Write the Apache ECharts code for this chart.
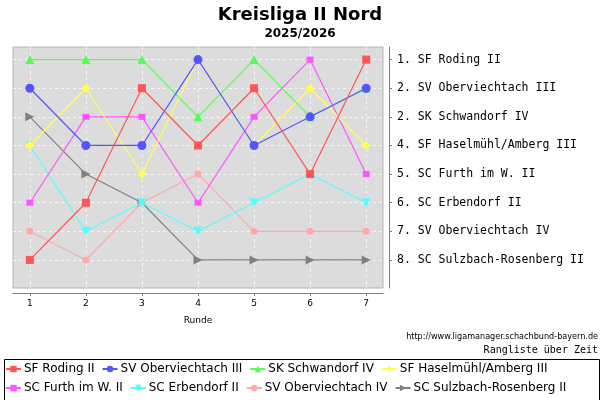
<!DOCTYPE html>
<html>
<head>
<meta charset="utf-8">
<script src="https://cdn.jsdelivr.net/npm/echarts@6/dist/echarts.min.js"></script>
<style>
html,body{margin:0;padding:0;background:#fff;}
#chart{width:600px;height:400px;}
</style>
</head>
<body>
<div id="chart"></div>
<script>
var rounds = [1, 2, 3, 4, 5, 6, 7];
var teams = ['SF Roding II', 'SV Oberviechtach III', 'SK Schwandorf IV', 'SF Haselmühl/Amberg III',
	'SC Furth im W. II', 'SC Erbendorf II', 'SV Oberviechtach IV', 'SC Sulzbach-Rosenberg II'];
var ranks = [
	[8, 6, 2, 4, 2, 5, 1],
	[2, 4, 4, 1, 4, 3, 2],
	[1, 1, 1, 3, 1, 3, 2],
	[4, 2, 5, 1, 4, 2, 4],
	[6, 3, 3, 6, 3, 1, 5],
	[4, 7, 6, 7, 6, 5, 6],
	[7, 8, 6, 5, 7, 7, 7],
	[3, 5, 6, 8, 8, 8, 8]
];
// final table on the right
var tableLabels = ['1. SF Roding II', '2. SV Oberviechtach III', '2. SK Schwandorf IV', '4. SF Haselmühl/Amberg III',
	'5. SC Furth im W. II', '6. SC Erbendorf II', '7. SV Oberviechtach IV', '8. SC Sulzbach-Rosenberg II'];
var rankTicks = [1, 2, 3, 4, 5, 6, 7, 8];

var colors = ['#ff5555', '#5555ff', '#55ff55', '#ffff55', '#ff55ff', '#55ffff', '#ffaaaa', '#808080'];
var symbols = ['rect', 'circle', 'triangle', 'diamond', 'rect', 'triangle', 'circle', 'triangle'];
var symRot = [0, 0, 0, 0, 0, 180, 0, -90];
var symSize = [8, 9, 9, 9, [7, 6], 9, 7, 9];

var series = [];
for (var i = 0; i < teams.length; i++) {
	var d = [];
	for (var j = 0; j < rounds.length; j++) {
		d.push([rounds[j], ranks[i][j]]);
	}
	series.push({
		name: teams[i],
		type: 'line',
		data: d,
		z: 20 - i,
		symbol: symbols[i],
		symbolRotate: symRot[i],
		symbolSize: symSize[i],
		showAllSymbol: true,
		color: colors[i],
		lineStyle: {width: 1.2, color: colors[i]},
		itemStyle: {color: colors[i]},
		emphasis: {disabled: true},
		animation: false
	});
}

var chart = echarts.init(document.getElementById('chart'));
var option = {
	animation: false,
	title: [{
		text: 'Kreisliga II Nord',
		left: 'center', top: 1,
		textStyle: {fontFamily: 'DejaVu Sans', fontSize: 18, fontWeight: 'bold', color: '#000'}
	}, {
		text: '2025/2026',
		left: 'center', top: 23,
		textStyle: {fontFamily: 'DejaVu Sans', fontSize: 12, fontWeight: 'bold', color: '#000'}
	}],
	grid: {
		left: 13, right: 217, top: 47, bottom: 112,
		show: true,
		backgroundColor: '#dcdcdc',
		borderColor: '#b4b4b4',
		borderWidth: 1
	},
	legend: {
		left: 0, top: 358, width: 590,
		itemGap: 7, itemWidth: 15, itemHeight: 8,
		textStyle: {fontFamily: 'DejaVu Sans', fontSize: 12, color: '#000', padding: [0, 0, 0, -2]},
		data: teams
	},
	xAxis: {
		type: 'value', min: 0.7, max: 7.3,
		offset: 5,
		name: 'Runde', nameLocation: 'middle', nameGap: 23,
		nameTextStyle: {fontFamily: 'DejaVu Sans', fontSize: 9, color: '#000'},
		axisLine: {show: true, onZero: false, lineStyle: {color: '#808080', width: 1}},
		axisTick: {show: true, length: 3, lineStyle: {color: '#808080'}, customValues: rounds},
		axisLabel: {fontFamily: 'DejaVu Sans', fontSize: 9, color: '#000', margin: 6, customValues: rounds},
		splitLine: {show: true, lineStyle: {color: '#f4f4f4', type: [3, 3], width: 1}}
	},
	yAxis: [{
		type: 'value', inverse: true, min: 0.56, max: 8.98,
		position: 'left',
		axisLine: {show: false},
		axisTick: {show: false, customValues: rankTicks},
		axisLabel: {show: false, customValues: rankTicks},
		splitLine: {show: true, lineStyle: {color: '#f4f4f4', type: [3, 3], width: 1}}
	}, {
		type: 'value', inverse: true, min: 0.56, max: 8.98,
		position: 'right', offset: 6,
		axisLine: {show: true, lineStyle: {color: '#808080', width: 1}},
		axisTick: {show: true, length: 3, lineStyle: {color: '#808080'}, customValues: rankTicks},
		axisLabel: {
			fontFamily: 'DejaVu Sans Mono', fontSize: 11.5, color: '#000', margin: 8,
			customValues: rankTicks,
			formatter: function(v) { return tableLabels[Math.round(v) - 1]; }
		},
		splitLine: {show: false}
	}],
	graphic: [{
		type: 'text', right: 2, top: 332,
		style: {text: 'http://www.ligamanager.schachbund-bayern.de', font: '9px "DejaVu Sans Condensed", "DejaVu Sans"', fill: '#000'}
	}, {
		type: 'text', right: 2, top: 345,
		style: {text: 'Rangliste über Zeit', font: '10px "DejaVu Sans Mono"', fill: '#000'}
	}, {
		type: 'rect', left: 2, top: 357, silent: true,
		shape: {width: 595, height: 41},
		style: {fill: 'none', stroke: '#000', lineWidth: 1}
	}],
	series: series
};
chart.setOption(option);
</script>
</body>
</html>
